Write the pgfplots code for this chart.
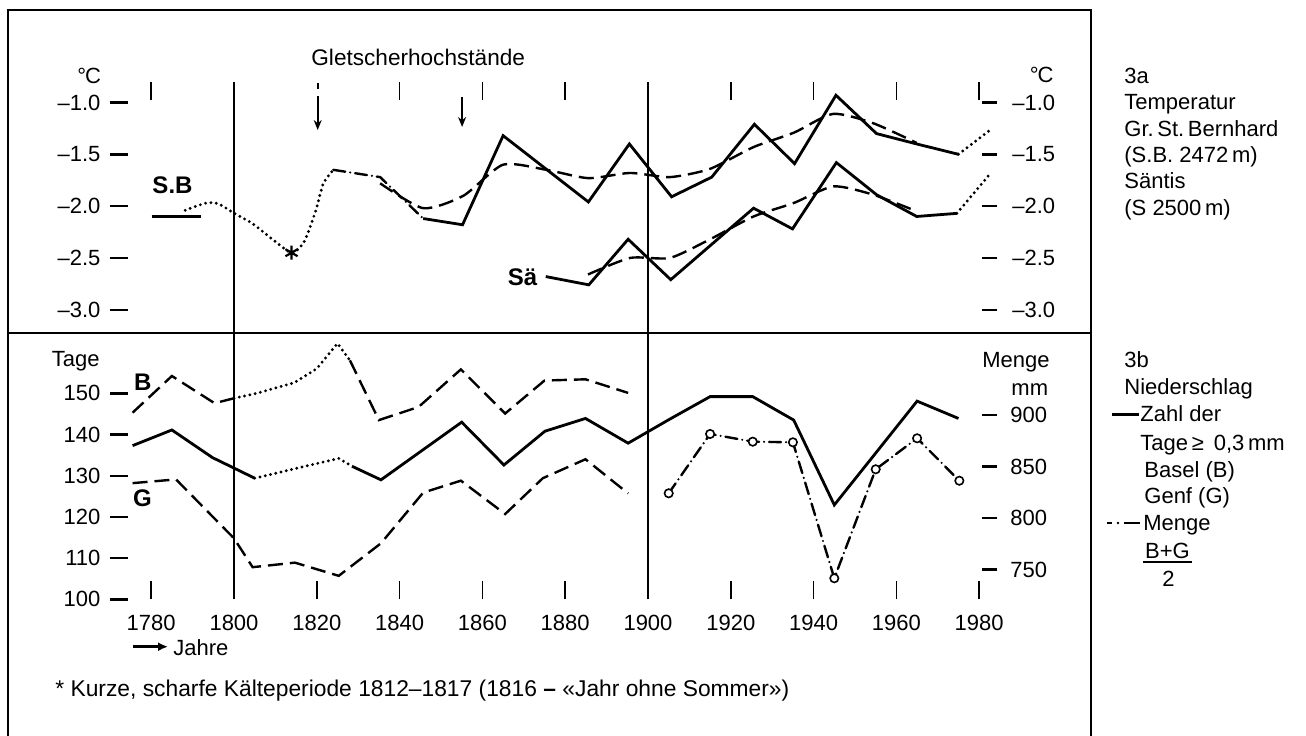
\documentclass[border=0pt]{standalone}
\usepackage{fontspec}
\setmainfont{Liberation Sans}
\usepackage{pgfplots}
\pgfplotsset{compat=1.18}
\usetikzlibrary{arrows.meta}
\tikzset{
  solidline/.style={black, line width=1.4pt, line join=miter, solid},
  dashedline/.style={black, line width=1.2pt, dash pattern=on 7.5pt off 3.5pt},
  dottedline/.style={black, line width=1.6pt, line cap=round, dash pattern=on 0pt off 2.7pt},
  dashdotline/.style={black, line width=1.2pt, line cap=round, dash pattern=on 6pt off 2.5pt on 0pt off 2.5pt},
}
\pgfplotsset{
  myaxis/.style={scale only axis, width=443.6pt, xmin=1770, xmax=1984.3,
    anchor=south west, axis line style={draw=none}, tick align=inside,
    tick style={black, line width=1.2pt},
    tick label style={font=\fontsize{11}{13}\selectfont},
    clip=false},
}
\begin{document}
\begin{tikzpicture}[font=\fontsize{11}{13}\selectfont]
\useasboundingbox (0,0) rectangle (653pt,-367.5pt);

% ---------- top panel: temperature (left scale) ----------
\begin{axis}[myaxis, at={(54.9pt,-165.21pt)}, height=124.32pt,
  ymin=-3.2, ymax=-0.8,
  axis x line*=top, axis y line*=left,
  xtick={1780,1840,1860,1880,1920,1940,1960,1980}, xticklabels={},
  xtick style={line width=0.8pt},
  ytick={-3,-2.5,-2,-1.5,-1}, yticklabels={–3.0,–2.5,–2.0,–1.5,–1.0},
  major tick length=9pt,
  yticklabel style={anchor=east, inner sep=0pt, xshift=-4.5pt}]
% S.B reference level
\addplot[solidline] coordinates {(1780.1,-2.10) (1792,-2.10)};
% S.B early reconstruction (dotted)
\addplot[dottedline, smooth, tension=0.45] coordinates {(1788.2,-2.04) (1793.3,-1.97) (1796.3,-1.98) (1800.1,-2.07) (1804.5,-2.17) (1809.6,-2.33) (1813.9,-2.45) (1816.7,-2.36) (1818.4,-2.20) (1820,-2.01) (1821.6,-1.78) (1824,-1.65)};
\addplot[only marks, mark=asterisk, mark size=3.5pt, mark options={line width=1.1pt}] coordinates {(1813.9,-2.45)};
% S.B dash-dot part
\addplot[dashdotline] coordinates {(1824,-1.65) (1835.3,-1.72) (1845.7,-2.12)};
% S.B decade means
\addplot[solidline] coordinates {(1845.7,-2.12) (1855.2,-2.18) (1865,-1.32) (1885.6,-1.96) (1895.5,-1.40) (1905.7,-1.91) (1915.4,-1.72) (1925.7,-1.21) (1935.4,-1.59) (1945.4,-0.93) (1955.2,-1.30) (1964.9,-1.40) (1975,-1.50)};
\addplot[dottedline] coordinates {(1975,-1.50) (1982.5,-1.27)};
% S.B smoothed
\addplot[dashedline, smooth, tension=0.4] coordinates {(1835.3,-1.78) (1845.7,-2.02) (1855.4,-1.90) (1865,-1.60) (1875.5,-1.65) (1885.6,-1.73) (1895.7,-1.68) (1905.3,-1.72) (1915,-1.64) (1925.5,-1.43) (1935.3,-1.29) (1944.7,-1.11) (1954.4,-1.20) (1964.9,-1.39)};
% Saentis decade means
\addplot[solidline] coordinates {(1875.3,-2.68) (1885.7,-2.76) (1895.2,-2.32) (1905.5,-2.71) (1925.5,-2.02) (1934.9,-2.22) (1945.5,-1.58) (1955.2,-1.89) (1964.9,-2.10) (1974.6,-2.07)};
\addplot[dottedline] coordinates {(1974.6,-2.07) (1982.6,-1.69)};
% Saentis smoothed
\addplot[dashedline, smooth, tension=0.4] coordinates {(1885.5,-2.66) (1895.7,-2.50) (1905.3,-2.50) (1915,-2.32) (1925.5,-2.10) (1935.2,-1.97) (1944.8,-1.81) (1954.4,-1.89) (1964.9,-2.05)};
\end{axis}

% ---------- top panel: right scale ----------
\begin{axis}[myaxis, at={(54.9pt,-165.21pt)}, height=124.32pt,
  ymin=-3.2, ymax=-0.8,
  axis x line=none, axis y line*=right,
  ytick={-3,-2.5,-2,-1.5,-1}, yticklabels={–3.0,–2.5,–2.0,–1.5,–1.0},
  major tick length=7.5pt,
  yticklabel style={anchor=west, inner sep=0pt, xshift=7.5pt}]
\addplot[draw=none] coordinates {(1800,-2)};
\end{axis}

% ---------- bottom panel: days (left scale) ----------
\begin{axis}[myaxis, at={(54.9pt,-299.65pt)}, height=132.87pt,
  ymin=100, ymax=164.5,
  axis x line*=bottom, axis y line*=left,
  xtick={1780,1800,1820,1840,1860,1880,1900,1920,1940,1960,1980},
  xticklabels={1780,1800,1820,1840,1860,1880,1900,1920,1940,1960,1980},
  xtick style={line width=0.8pt},
  xticklabel style={anchor=north, inner sep=0pt, yshift=-7.8pt},
  ytick={100,110,120,130,140,150}, yticklabels={100,110,120,130,140,150},
  major tick length=9pt,
  yticklabel style={anchor=east, inner sep=0pt, xshift=-4.5pt}]
% number of days, mean
\addplot[solidline] coordinates {(1775.5,137.3) (1785,141.1) (1794.8,134.4) (1805,129.4)};
\addplot[dottedline] coordinates {(1805,129.4) (1825.3,134.2) (1828.5,132.3)};
\addplot[solidline] coordinates {(1828.5,132.3) (1835.5,129.0) (1855,143.0) (1865.2,132.6) (1875.1,140.8) (1884.9,143.9) (1895.2,137.9) (1905.2,143.7) (1915,149.2) (1925.3,149.2) (1935.2,143.5) (1945,122.9) (1965,148.1) (1975,143.9)};
% Basel
\addplot[dashedline] coordinates {(1775.5,145.3) (1785,154.2) (1795.3,147.6) (1800,148.8)};
\addplot[dottedline] coordinates {(1800,148.8) (1805.5,150.0) (1814.6,152.6) (1820,156.0) (1825,162.1) (1828,158.0)};
\addplot[dashedline] coordinates {(1828,158.0) (1835,143.5) (1844.6,146.7) (1854.8,155.8) (1865.5,145.1) (1875,153.1) (1884.9,153.4) (1895.2,150.1)};
% Genf
\addplot[dashedline] coordinates {(1775.5,128.2) (1786,129.1) (1800,114.8) (1804.5,107.8) (1814.7,108.9) (1825.3,105.7) (1835.5,113.6) (1845.7,125.9) (1854.8,128.8) (1865.5,120.7) (1874.6,129.4) (1884.9,134.0) (1895.2,125.7)};
\end{axis}

% ---------- bottom panel: amount (right scale) ----------
\begin{axis}[myaxis, at={(54.9pt,-299.65pt)}, height=132.87pt,
  ymin=721.07, ymax=979.07,
  axis x line=none, axis y line*=right,
  ytick={750,800,850,900}, yticklabels={750,800,850,900},
  major tick length=7.5pt,
  yticklabel style={anchor=west, inner sep=0pt, xshift=6.5pt}]
\addplot[dashdotline, mark=*, mark size=2.1pt, mark options={solid, fill=white, line width=0.8pt}] coordinates {(1905,824.0) (1915,881.6) (1925.3,874.1) (1935,873.5) (1945,741.5) (1955,847.3) (1965,877.4) (1975.2,836.2)};
\end{axis}

% ---------- frame, guide lines, texts (pixel units) ----------
\begin{scope}[x=0.5pt, y=-0.5pt, every node/.style={inner sep=0pt}]
\draw[line width=1.1pt] (8,736) -- (8,10) -- (1091,10) -- (1091,736);
\draw[line width=1.1pt] (8,333.3) -- (1091,333.3);
\draw[line width=0.8pt] (234,82) -- (234,598);
\draw[line width=0.8pt] (648,82) -- (648,598);
% glacier maxima arrows
\draw[line width=0.8pt] (317.7,83) -- (317.7,89);
\draw[line width=0.8pt, -{Stealth[length=5pt,width=4pt]}] (317.7,96) -- (317.7,130);
\draw[line width=0.8pt, -{Stealth[length=5pt,width=4pt]}] (462.1,97) -- (462.1,127);
\node[anchor=base west, font=\fontsize{11.3}{13}\selectfont] at (311,65) {Gletscherhochstände};
\node[anchor=base west] at (77,83) {°\kern-0.5ptC};
\node[anchor=base west] at (1029.5,82) {°\kern-0.5ptC};
\node[anchor=base, font=\fontsize{12}{14}\selectfont\bfseries] at (172.5,193) {S.B};
\node[anchor=base, font=\fontsize{12}{14}\selectfont\bfseries] at (522.5,285) {Sä};
\node[anchor=base east] at (100,366) {Tage};
\node[anchor=base, font=\fontsize{12}{14}\selectfont\bfseries] at (142.7,390) {B};
\node[anchor=base, font=\fontsize{12}{14}\selectfont\bfseries] at (142.4,506.7) {G};
\node[anchor=base east] at (1050,367.7) {Menge};
\node[anchor=base east] at (1048.5,395) {mm};
% right-hand captions
\node[anchor=base west] at (1124,83) {3a};
\node[anchor=base west] at (1124,109.5) {Temperatur};
\node[anchor=base west] at (1124,136) {Gr.\,St.\,Bernhard};
\node[anchor=base west] at (1124,162) {(S.B.\ 2472\,m)};
\node[anchor=base west] at (1124,188.5) {Säntis};
\node[anchor=base west] at (1124,215) {(S 2500\,m)};
\node[anchor=base west] at (1124,367) {3b};
\node[anchor=base west] at (1124,394) {Niederschlag};
\draw[line width=1.2pt] (1111.5,414.5) -- (1138.5,414.5);
\node[anchor=base west] at (1140,421.7) {Zahl der};
\node[anchor=base west] at (1140,450) {Tage\,≥\hspace{5pt}0,3\,mm};
\node[anchor=base west] at (1144,477) {Basel (B)};
\node[anchor=base west] at (1144,503) {Genf (G)};
\draw[line width=1.2pt] (1107,523) -- (1112,523);
\fill (1118,523) circle (0.7pt);
\draw[line width=1.2pt] (1124,523) -- (1140,523);
\node[anchor=base west] at (1143,530) {Menge};
\node[anchor=base] at (1167.5,558) {B+G};
\draw[line width=1pt] (1143,561.7) -- (1192,561.7);
\node[anchor=base] at (1168.5,586) {2};
% bottom texts
\draw[line width=1.3pt, -{Latex[length=5pt,width=4.5pt]}] (133,646.7) -- (168,646.7);
\node[anchor=base west] at (173,655) {Jahre};
\node[anchor=base west, font=\fontsize{11.4}{13}\selectfont] at (55,696.5) {* Kurze, scharfe Kälteperiode 1812–1817 (1816 \textbf{–} «Jahr ohne Sommer»)};
\end{scope}
\end{tikzpicture}
\end{document}
